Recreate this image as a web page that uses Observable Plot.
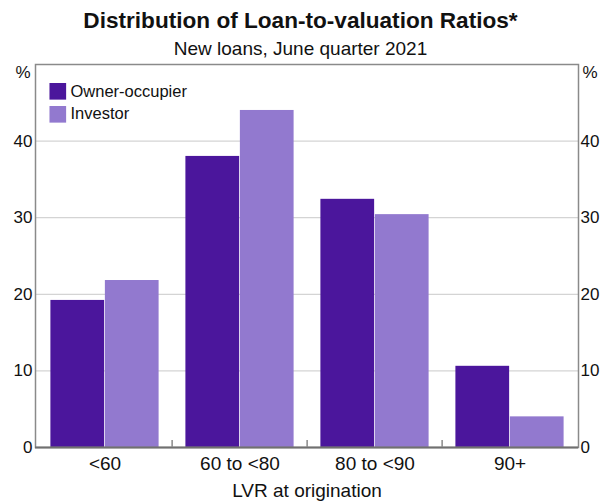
<!DOCTYPE html>
<html>
<head>
<meta charset="utf-8">
<script src="https://cdn.jsdelivr.net/npm/d3@7"></script>
<script src="https://cdn.jsdelivr.net/npm/@observablehq/plot@0.6"></script>
<style>
  html, body { margin: 0; padding: 0; background: #fff; }
  #wrap { width: 601px; font-family: "Liberation Sans", Arial, sans-serif; color: #111; }
  #title { height: 42px; line-height: 42px; text-align: center; font-weight: bold; font-size: 22.6px; }
  #subtitle { height: 14px; line-height: 14px; text-align: center; font-size: 19px; }
  #chart svg, #chart svg text { font-family: "Liberation Sans", Arial, sans-serif !important; }
</style>
</head>
<body>
<div id="wrap">
  <div id="title">Distribution of Loan-to-valuation Ratios*</div>
  <div id="subtitle">New loans, June quarter 2021</div>
  <div id="chart"></div>
</div>
<script>
const categories = ["<60", "60 to <80", "80 to <90", "90+"];
const ownerOccupier = [19.2, 38.0, 32.4, 10.6];
const investor = [21.8, 44.0, 30.4, 4.0];
const seriesNames = ["Owner-occupier", "Investor"];
const seriesColors = ["#4b169c", "#9279cf"];
const yTicks = [0, 10, 20, 30, 40];
const gridTicks = [10, 20, 30, 40];
const xLabel = "LVR at origination";
const yUnit = "%";

const ownerData = categories.map((c, i) => ({cat: c, value: ownerOccupier[i]}));
const investorData = categories.map((c, i) => ({cat: c, value: investor[i]}));

const FONT = '"Liberation Sans", Arial, sans-serif';
const width = 601, height = 445;
const mL = 35, mR = 23, mT = 8, mB = 54;
const bw = (width - mL - mR) / categories.length;
const pad = 13.4;
const barW = (bw - 2 * pad) / 2;
const innerH = height - mT - mB;
const frameColor = "#8a8a8a";
const textColor = "#111";
const fs = 19;
const yFs = 17;
const legendFs = 16.5;

const chart = Plot.plot({
  width, height,
  marginLeft: mL, marginRight: mR, marginTop: mT, marginBottom: mB,
  style: {fontFamily: FONT, fontSize: fs + "px", color: textColor, background: "#fff"},
  x: {type: "band", domain: categories, padding: 0, axis: null},
  y: {domain: [0, 50], axis: null},
  marks: [
    Plot.gridY(gridTicks, {stroke: "#d4d4d4", strokeOpacity: 1, strokeWidth: 1.2}),
    Plot.barY(ownerData, {x: "cat", y: "value", fill: seriesColors[0], insetLeft: pad, insetRight: bw - pad - barW}),
    Plot.barY(investorData, {x: "cat", y: "value", fill: seriesColors[1], insetLeft: pad + barW, insetRight: pad}),
    Plot.frame({stroke: frameColor, strokeWidth: 1.5}),
    Plot.ruleY([0], {stroke: "#707070", strokeWidth: 2}),
    Plot.ruleX(categories.slice(1), {x: d => d, dx: -bw / 2, insetTop: innerH - 7, stroke: frameColor, strokeWidth: 1.5}),
    Plot.axisX({tickSize: 0, tickPadding: 9, label: null, fontSize: fs, fontFamily: FONT, fill: textColor}),
    Plot.axisY(yTicks, {anchor: "left", tickSize: 0, tickPadding: 3, label: null, fontSize: yFs, fontFamily: FONT, fill: textColor}),
    Plot.axisY(yTicks, {anchor: "right", tickSize: 0, tickPadding: 2, label: null, fontSize: yFs, fontFamily: FONT, fill: textColor}),
    Plot.text([yUnit], {frameAnchor: "top-left", lineAnchor: "middle", dx: -5, dy: 8, textAnchor: "end", fontSize: yFs, fontFamily: FONT, fill: textColor}),
    Plot.text([yUnit], {frameAnchor: "top-right", lineAnchor: "middle", dx: 4, dy: 8, textAnchor: "start", fontSize: yFs, fontFamily: FONT, fill: textColor}),
    Plot.text([xLabel], {frameAnchor: "bottom", lineAnchor: "middle", dy: 43, fontSize: fs, fontFamily: FONT, fill: textColor}),
    Plot.dot([seriesNames[0]], {frameAnchor: "top-left", dx: 22.3, dy: 26.8, symbol: "square", r: 9.4, fill: seriesColors[0]}),
    Plot.dot([seriesNames[1]], {frameAnchor: "top-left", dx: 22.3, dy: 49.8, symbol: "square", r: 9.4, fill: seriesColors[1]}),
    Plot.text([seriesNames[0]], {frameAnchor: "top-left", lineAnchor: "middle", dx: 35, dy: 27, textAnchor: "start", fontSize: legendFs, fontFamily: FONT, fill: textColor}),
    Plot.text([seriesNames[1]], {frameAnchor: "top-left", lineAnchor: "middle", dx: 35, dy: 49.5, textAnchor: "start", fontSize: legendFs, fontFamily: FONT, fill: textColor})
  ]
});
document.getElementById("chart").appendChild(chart);
</script>
</body>
</html>
